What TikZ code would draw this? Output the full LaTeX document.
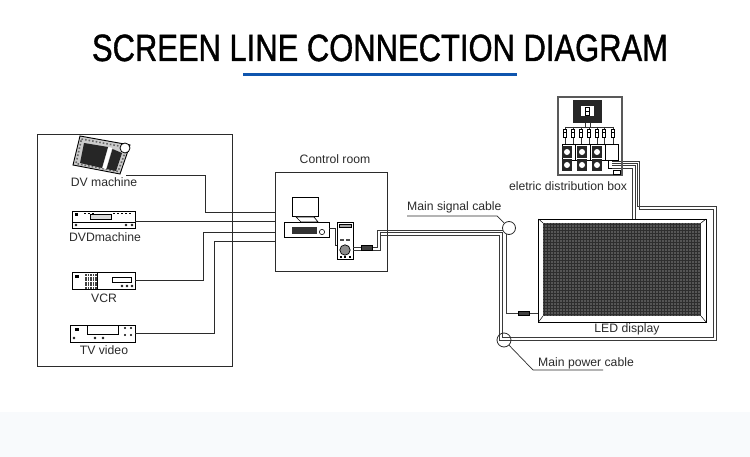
\documentclass[tikz,border=0pt]{standalone}
\usepackage{fontspec}
\setmainfont{Liberation Sans}
\usetikzlibrary{calc}
\definecolor{inkc}{HTML}{2B2B2B}
\definecolor{rulec}{HTML}{0F55AE}
\definecolor{bandc}{HTML}{F8FAFC}
\definecolor{ledc}{HTML}{565656}
\definecolor{ledg}{HTML}{2E2E2E}
\definecolor{cablec}{HTML}{3A3A3A}
\tikzset{
  wire/.style={draw=inkc,line width=0.7pt},
  boxline/.style={draw=inkc,line width=0.75pt},
  devbox/.style={draw=black,line width=0.9pt,fill=white},
  cable/.style={draw=cablec,line width=0.85pt},
  lbl/.style={text=inkc,font=\fontsize{12.2}{14}\selectfont,inner sep=0pt},
  fuse/.style={fill=black!75,draw=black,line width=0.4pt},
}
\begin{document}
\begin{tikzpicture}[x=1pt,y=-1pt]
\useasboundingbox (0,0) rectangle (750,457);
\fill[white] (0,0) rectangle (750,457);
\fill[bandc] (0,412) rectangle (750,457);
% title
\node[inner sep=0pt,anchor=base] (title) at (380,61) {\resizebox{576pt}{26.5pt}{\addfontfeature{FakeBold=1.2}SCREEN LINE CONNECTION DIAGRAM}};
\fill[rulec] (243,73) rectangle (517,76.5);
% frames
\node[boxline,minimum width=195pt,minimum height=232pt,inner sep=0pt] (src) at (134.5,250) {};
\node[boxline,minimum width=112pt,minimum height=99pt,inner sep=0pt] (room) at (331,221.5) {};
\node[lbl] (roomlbl) at (335,159) {Control room};
% DV machine
\draw[black,line width=0.9pt,fill=black!20] (80,136) -- (130,145) -- (120,174) -- (73,165) -- cycle;
\draw[black!60,line width=1.6pt,dotted] (81.5,139) -- (127,147.5) -- (118,171.5) -- (76,163.5) -- cycle;
\fill[black!85] (84,143) -- (108,147) -- (102,168) -- (80,163) -- cycle;
\fill[white] (108.5,147) -- (112,148) -- (106,169) -- (102.5,168) -- cycle;
\fill[black!85] (112.5,149) -- (122,153) -- (116,171) -- (106.5,169) -- cycle;
\draw[black,line width=0.8pt,fill=white] (125,148) circle (5);
\node[lbl] (dvlbl) at (104,182) {DV machine};
\coordinate (dvout) at (126,175);
% DVD
\node[devbox,minimum width=63pt,minimum height=17pt,inner sep=0pt] (dvd) at (103.5,219.5) {};
\draw[black,line width=0.6pt] (72,222) -- (135,222);
\fill[black] (75,213.5) rectangle (78,216);
\draw[black,line width=0.6pt,fill=black!15] (90,214.5) rectangle (111,219);
\foreach \x in {84,88,92,113,117,121,125,129} \fill[black] (\x,213) rectangle +(1.5,1.5);
\foreach \x in {76,126,132} \draw[black,line width=0.5pt] (\x,225) circle (1.1);
\node[lbl] (dvdlbl) at (105,237) {DVDmachine};
% VCR
\node[devbox,minimum width=63pt,minimum height=17pt,inner sep=0pt] (vcr) at (103.5,280.5) {};
\draw[black,line width=0.7pt] (97,272) -- (97,289);
\fill[black] (75,275) rectangle (79,278);
\foreach \x in {85,87.5,...,95}\foreach \y in {274.5,277,...,287}\fill[black!75] (\x,\y) rectangle +(1.6,1.6);
\draw[black,line width=0.6pt,fill=white] (112,277) rectangle (131,282);
\foreach \x in {122,127,132} \draw[black,line width=0.5pt] (\x,286) circle (1.1);
\node[lbl] (vcrlbl) at (104,298) {VCR};
% TV video
\node[devbox,minimum width=65pt,minimum height=17pt,inner sep=0pt] (tv) at (102.5,333.5) {};
\fill[black] (75,328) rectangle (79,331);
\draw[black,line width=0.8pt,fill=white] (87,325) rectangle (118,334);
\foreach \x in {74,95,103} \draw[black,line width=0.5pt] (\x,338) circle (1.1);
\foreach \x in {125,131}{\fill[black] (\x,328) circle (1.1); \fill[black] (\x,335) circle (1.1);}
\node[lbl] (tvlbl) at (104,350) {TV video};
% source wires
\coordinate (r1) at (room.west|-0,212);
\coordinate (r2) at (room.west|-0,221);
\coordinate (r3) at (room.west|-0,232);
\coordinate (r4) at (room.west|-0,241);
\draw[wire] (dvout) -- (205,175) -- (205,212) -- (r1);
\draw[wire] (dvd.east|-r2) -- (r2);
\draw[wire] (vcr.east) -- (203,280.5) -- (203,232) -- (r3);
\draw[wire] (tv.east) -- (214,333.5) -- (214,241) -- (r4);
% computer
\draw[black,line width=1pt,fill=white] (292,198) rectangle (318,217);
\draw[black,line width=0.7pt,fill=white] (296,217) -- (314,217) -- (318,222) -- (301,222) -- cycle;
\node[draw=black,line width=0.7pt,fill=white,minimum width=45pt,minimum height=15.5pt,inner sep=0pt] (desk) at (306.5,230) {};
\fill[black!80] (292,227) rectangle (317,234);
\draw[black,line width=0.6pt,fill=white] (322,232) circle (2.6);
\node[draw=black,line width=0.9pt,fill=white,minimum width=16pt,minimum height=37pt,inner sep=0pt] (tower) at (345,240.5) {};
\draw[black,line width=0.5pt,fill=black!35] (339,224) rectangle (351,227);
\fill[black!70] (340,239) rectangle (344,241); \fill[black!70] (346,239) rectangle (350,241);
\draw[black,line width=0.7pt,fill=black!45] (345,250) circle (5.2);
\foreach \x in {340,344,349} \fill[black] (\x,256) rectangle +(2,2);
\draw[wire] (desk.east|-0,228) -- (335,228) -- (335,245) -- (tower.west|-0,245);
% signal cable
\draw[cable] (tower.east|-0,247) -- (377.5,247) -- (377.5,230) -- (506,230) -- (506,313) -- (538.5,313);
% power cable (a pair of lines)
\draw[cable] (tower.east|-0,250) -- (380.5,250) -- (380.5,232.7) -- (502,232.7) -- (502,337) -- (713.5,337) -- (713.5,209) -- (639.5,209) -- (639.5,161) -- (612,161);
\draw[cable] (380.5,235.5) -- (499,235.5) -- (499,340) -- (716.5,340) -- (716.5,206.2) -- (637,206.2) -- (637,163.5) -- (612,163.5);
% feed of the display
\draw[cable] (632.5,219) -- (632.5,168) -- (612,168);
\draw[cable] (635,219) -- (635,165.7) -- (612,165.7);
\node[fuse,minimum width=11pt,minimum height=5pt,inner sep=0pt] (fuse1) at (366.5,248) {};
\node[fuse,minimum width=11pt,minimum height=4.5pt,inner sep=0pt] (fuse2) at (523.5,313) {};
% circles and leaders
\node[draw=inkc,line width=0.8pt,circle,fill=white,minimum size=13pt,inner sep=0pt] (sigc) at (509,228) {};
\node[draw=inkc,line width=0.8pt,circle,minimum size=14pt,inner sep=0pt] (powc) at (504,340) {};
\node[lbl,anchor=base west] (siglbl) at (407,211) {Main signal cable};
\node[lbl,anchor=base west] (powlbl) at (538,366) {Main power cable};
\coordinate (sigu) at (407,216); \coordinate (sigk) at (497,216);
\draw[wire] (sigu) -- (sigk) -- (sigc);
\coordinate (powk) at (533,370); \coordinate (powu) at (603,370);
\draw[wire] (powc) -- (powk) -- (powu);
% LED
\draw[black,line width=0.8pt,fill=white] (538.5,219) rectangle (706,322);
\fill[ledc] (543,223) rectangle (701,316);
\foreach \x in {544,547,...,700} \draw[ledg,line width=0.4pt] (\x,223) -- (\x,316);
\foreach \y in {224,227,...,315} \draw[ledg,line width=0.4pt] (543,\y) -- (701,\y);
\draw[black,line width=0.5pt] (538.5,219) -- (543,223) (706,219) -- (701,223) (538.5,322) -- (543,316) (706,322) -- (701,316);
\node[lbl] (ledlbl) at (627,329) {LED display};
% distribution box
\node[draw=black!65,line width=1.4pt,minimum width=64pt,minimum height=78pt,inner sep=0pt] (dist) at (590,136) {};
\fill[black!85] (573,100) rectangle (602,123);
\fill[white] (581,106) rectangle (594,116);
\draw[black,line width=0.6pt] (585,107) rectangle (589,115) (585,111) -- (589,111);
\draw[black!80,line width=0.6pt] (565,127) -- (613,127) (585,123) -- (585,127) (590,123) -- (590,127);
\foreach \x in {565,573,581,589,597,604,613}{
  \draw[black!80,line width=0.5pt] (\x,127) -- (\x,144);
  \draw[black,line width=0.7pt,fill=white] (\x-1.7,129) rectangle (\x+1.7,137);
  \fill[black] (\x-1.7,132.5) rectangle (\x+1.7,133.5);
}
\draw[black,line width=0.8pt] (562,144) rectangle (618,160);
\draw[black,line width=0.7pt] (575,144) -- (575,160) (590,144) -- (590,160) (605,144) -- (605,160);
\foreach \x in {567,582,597}{
  \fill[black!85] (\x-5,146) rectangle (\x+5,158);
  \fill[white] (\x,152) circle (3);
  \fill[black!85] (\x-5,159.5) rectangle (\x+5,171);
  \fill[white] (\x,165) circle (3);
}
\draw[black,line width=0.7pt] (608,160) -- (608,168) -- (612,168);
\draw[black,line width=0.6pt,fill=white] (613,170) rectangle (620,174);
\node[lbl] (distlbl) at (568,186) {eletric distribution box};
\end{tikzpicture}
\end{document}
